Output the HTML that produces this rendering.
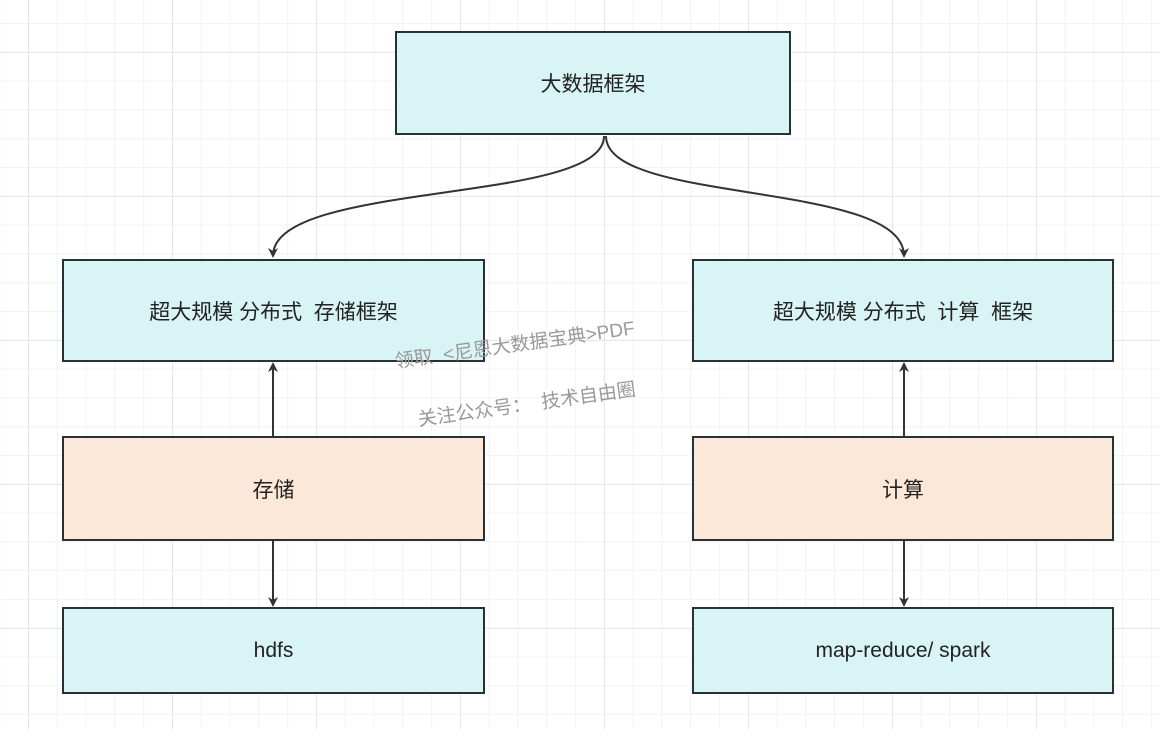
<!DOCTYPE html>
<html><head><meta charset="utf-8"><style>
body{margin:0;width:1160px;height:729px;overflow:hidden;background:#fff;font-family:"Liberation Sans","Noto Sans CJK SC",sans-serif;}
.g{position:absolute;left:0;top:0;width:1160px;height:729px;
background-image:
linear-gradient(to right,#e6e6e6 1px,transparent 1px),
linear-gradient(to bottom,#e6e6e6 1px,transparent 1px),
linear-gradient(to right,#f2f2f2 1px,transparent 1px),
linear-gradient(to bottom,#f2f2f2 1px,transparent 1px);
background-size:144px 144px,144px 144px,28.8px 28.8px,28.8px 28.8px;
background-position:28px 0,0 52px,28px 0,0 23px;}
.b{position:absolute;box-sizing:border-box;border:2px solid #263238;display:flex;align-items:center;justify-content:center;font-size:21px;color:#222;}
.c{background:#d9f4f4}.o{background:#fbe8d8}
.w{position:absolute;color:#999;font-size:19px;transform:rotate(-8deg);transform-origin:left top;white-space:pre}
</style></head><body>
<div class="g"></div>
<svg width="1160" height="729" style="position:absolute;left:0;top:0">
<defs><marker id="a" markerWidth="10" markerHeight="10" refX="8" refY="5" orient="auto" markerUnits="userSpaceOnUse"><path d="M0,0 L10,5 L0,10 L3,5 z" fill="#333"/></marker></defs>
<g stroke="#333" stroke-width="2" fill="none">
<path d="M604,136 C604,205 273,180 273,256" marker-end="url(#a)"/>
<path d="M606,136 C606,205 904,180 904,256" marker-end="url(#a)"/>
<path d="M273,437 L273,364" marker-end="url(#a)"/>
<path d="M904,437 L904,364" marker-end="url(#a)"/>
<path d="M273,540 L273,605" marker-end="url(#a)"/>
<path d="M904,540 L904,605" marker-end="url(#a)"/>
</g></svg>
<div class="b c" style="left:395px;top:31px;width:396px;height:104px">大数据框架</div>
<div class="b c" style="left:62px;top:259px;width:423px;height:103px">超大规模 分布式&nbsp; 存储框架</div>
<div class="b c" style="left:692px;top:259px;width:422px;height:103px">超大规模 分布式&nbsp; 计算&nbsp; 框架</div>
<div class="b o" style="left:62px;top:436px;width:423px;height:105px">存储</div>
<div class="b o" style="left:692px;top:436px;width:422px;height:105px">计算</div>
<div class="b c" style="left:62px;top:607px;width:423px;height:87px">hdfs</div>
<div class="b c" style="left:692px;top:607px;width:422px;height:87px">map-reduce/ spark</div>
<div class="w" style="left:393px;top:347px">领取  &lt;尼恩大数据宝典&gt;PDF</div>
<div class="w" style="left:416px;top:405px">关注公众号：  技术自由圈</div>
</body></html>
